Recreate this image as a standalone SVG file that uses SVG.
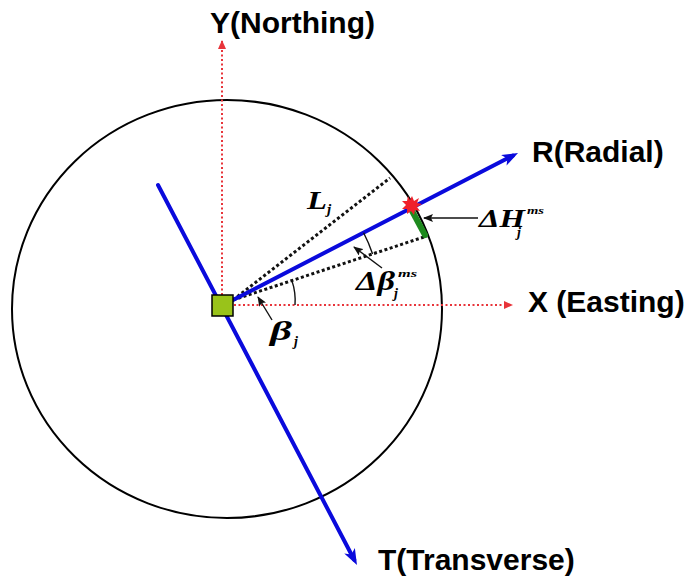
<svg xmlns="http://www.w3.org/2000/svg" width="691" height="583" viewBox="0 0 691 583">
<defs>
<style>
.axis-lbl{font-family:"Liberation Sans",Arial,sans-serif;font-weight:bold;font-size:30px;fill:#000}
.math{font-family:"Liberation Serif","Times New Roman",serif;font-weight:bold;font-style:italic;fill:#000}
.blue{stroke:#0a0adc;stroke-width:4;fill:none;stroke-linecap:round}
.reddot{stroke:#e8343a;stroke-width:2;stroke-dasharray:2 2.5;fill:none}
.blackdot{stroke:#111;stroke-width:3;stroke-dasharray:3 2.5;fill:none}
.thin{stroke:#111;stroke-width:1.4;fill:none}
</style>
<marker id="mBlue" markerUnits="userSpaceOnUse" viewBox="0 0 16 12" markerWidth="16" markerHeight="12" refX="10" refY="6" orient="auto">
<path d="M0,0 L16,6 L0,12 L4,6 z" fill="#0a0adc"/>
</marker>
<marker id="mRed" markerUnits="userSpaceOnUse" viewBox="0 0 9 8" markerWidth="9" markerHeight="8" refX="8" refY="4" orient="auto">
<path d="M0,0 L9,4 L0,8 z" fill="#e8343a"/>
</marker>
<marker id="mBlack" markerUnits="userSpaceOnUse" viewBox="0 0 10 8" markerWidth="10" markerHeight="8" refX="9" refY="4" orient="auto">
<path d="M0,0 L10,4 L0,8 L2,4 z" fill="#111"/>
</marker>
</defs>
<rect width="691" height="583" fill="#fff"/>

<g id="circle">
<ellipse cx="227" cy="309" rx="215" ry="209" fill="none" stroke="#000" stroke-width="2"/>
</g>

<g id="connectors">
<line class="reddot" x1="222" y1="295" x2="222" y2="41" marker-end="url(#mRed)"/>
<line class="reddot" x1="234" y1="305" x2="512" y2="305" marker-end="url(#mRed)"/>
<line class="blackdot" x1="233" y1="300" x2="390" y2="178"/>
<line class="blackdot" x1="233" y1="300" x2="427" y2="236"/>
<line class="blue" x1="158" y1="185" x2="354.2" y2="559.7" marker-end="url(#mBlue)"/>
<line class="blue" x1="233" y1="300" x2="512.7" y2="155.7" marker-end="url(#mBlue)"/>
<path class="thin" d="M295,305 A62,62 0 0 0 291.9,280.6"/>
<path class="thin" d="M372.6,254 A147,147 0 0 0 363.6,232.7"/>
<line class="thin" x1="272" y1="320" x2="258" y2="297" marker-end="url(#mBlack)"/>
<line class="thin" x1="382" y1="268" x2="354" y2="247" marker-end="url(#mBlack)"/>
<line class="thin" x1="478" y1="218" x2="424" y2="218" marker-end="url(#mBlack)"/>
</g>

<g id="station">
<rect x="212" y="295" width="21" height="21" fill="#99c31a" stroke="#000" stroke-width="1.5"/>
</g>

<g id="error-segment">
<line x1="411" y1="209" x2="425" y2="235" stroke="#1e8a1e" stroke-width="6" stroke-linecap="round"/>
</g>

<g id="star">
<polygon points="412,196 414,201 419,198 417,203 422,204 417,207 420,211 415,210 414,215 411,211 407,214 407,209 402,209 406,205 402,201 407,201 408,196 410,200" fill="#f0202a"/>
</g>

<g id="labels">
<text class="axis-lbl" x="210" y="33">Y(Northing)</text>
<text class="axis-lbl" x="532" y="162">R(Radial)</text>
<text class="axis-lbl" x="528" y="312">X (Easting)</text>
<text class="axis-lbl" x="378" y="570">T(Transverse)</text>

<text class="math" x="307" y="209" font-size="25" textLength="20" lengthAdjust="spacingAndGlyphs">L</text>
<text class="math" x="327" y="214" font-size="15">j</text>

<text class="math" x="356" y="290" font-size="27" textLength="39" lengthAdjust="spacingAndGlyphs">Δβ</text>
<text class="math" x="398" y="277" font-size="11" textLength="19" lengthAdjust="spacingAndGlyphs">ms</text>
<text class="math" x="394" y="298" font-size="14">j</text>

<text class="math" x="479" y="227" font-size="26" textLength="46" lengthAdjust="spacingAndGlyphs">ΔH</text>
<text class="math" x="527" y="214" font-size="11" textLength="17" lengthAdjust="spacingAndGlyphs">ms</text>
<text class="math" x="517" y="237" font-size="14">j</text>

<text class="math" x="270" y="340" font-size="27" textLength="22" lengthAdjust="spacingAndGlyphs">β</text>
<text class="math" x="294" y="346" font-size="14">j</text>
</g>
</svg>
